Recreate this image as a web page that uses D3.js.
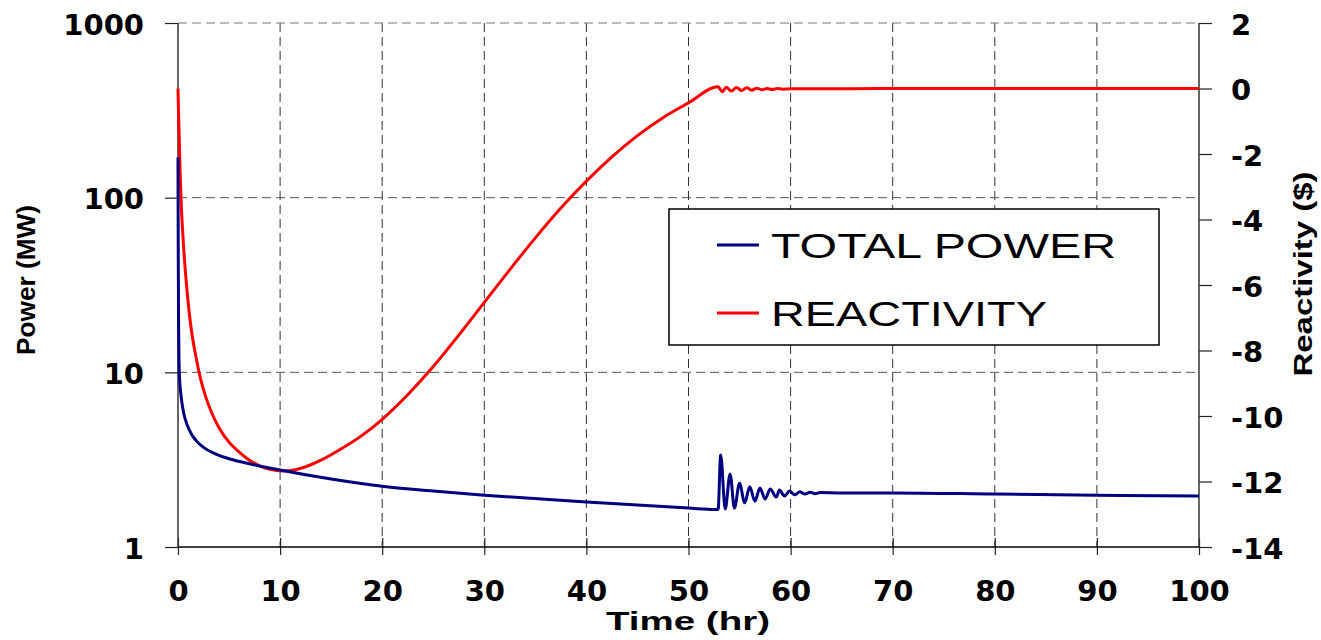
<!DOCTYPE html>
<html><head><meta charset="utf-8">
<script src="https://cdn.jsdelivr.net/npm/d3@7"></script>
<style>body{margin:0;background:#fff}</style>
</head><body><svg id="c" width="1321" height="640"></svg>
<script>
// ---- data ----
const timePower = [0, 0.01, 0.03, 0.06, 0.1, 0.15, 0.25, 0.4, 0.6, 0.9, 1.3, 1.8, 2.5, 3.5, 5, 7, 10, 15, 20, 25, 30, 40, 50, 52.6, 52.9,
  53.15, 53.6, 54.07, 54.5, 55.0, 55.5, 56.0, 56.5, 57.0, 57.5, 58.0, 58.6, 58.9, 59.4, 59.9, 60.4, 60.9, 61.4, 61.9, 62.4, 62.9,
  65, 70, 80, 90, 100];
const totalPower = [170, 100, 40, 18, 11.5, 9.3, 7.8, 6.6, 5.7, 5.0, 4.45, 4.05, 3.72, 3.45, 3.2, 3.0, 2.76, 2.45, 2.23, 2.09, 1.98, 1.81, 1.67, 1.64, 1.64,
  3.36, 1.65, 2.62, 1.67, 2.32, 1.79, 2.21, 1.83, 2.18, 1.88, 2.15, 1.93, 2.12, 1.96, 2.09, 1.99, 2.07, 2.01, 2.06, 2.02, 2.05,
  2.04, 2.04, 2.01, 1.98, 1.96];
const timeReact = [0, 0.05, 0.1, 0.2, 0.3, 0.5, 0.7, 1.0, 1.3, 1.7, 2.2, 2.7, 3.3, 4.0, 5.0, 6.0, 7.0, 8.0, 9.0, 10.3, 11.5, 12.5,
  14, 16, 18, 20, 22.5, 25, 27.5, 30, 32.5, 35, 37.5, 40, 42.5, 45, 47.5, 50, 52.9,
  53.3, 53.7, 54.2, 54.7, 55.2, 55.7, 56.2, 56.7, 57.2, 57.7, 58.2, 58.7, 59.2, 60, 62, 70, 100];
const reactivity = [0, -0.7, -1.3, -2.5, -3.4, -4.6, -5.5, -6.55, -7.35, -8.1, -8.85, -9.4, -9.9, -10.35, -10.8, -11.1, -11.35, -11.52,
  -11.63, -11.68, -11.64, -11.55, -11.35, -11.0, -10.6, -10.1, -9.35, -8.49, -7.53, -6.53, -5.53, -4.56, -3.65, -2.83, -2.09,
  -1.44, -0.89, -0.44, 0.05,
  -0.1, 0.04, -0.08, 0.03, -0.06, 0.02, -0.05, 0.01, -0.04, 0.0, -0.03, 0.0, -0.02, -0.01, -0.01, 0, 0];
const xTicks = [0, 10, 20, 30, 40, 50, 60, 70, 80, 90, 100];
const powerTicks = [1, 10, 100, 1000];
const reactTicks = [-14, -12, -10, -8, -6, -4, -2, 0, 2];
const seriesNames = ["TOTAL POWER", "REACTIVITY"];
const seriesColors = ["#000080", "#ff0000"];

// ---- layout ----
const L = 178, R = 1199, T = 23, B = 547;
const svg = d3.select("#c");
const x = d3.scaleLinear([0, 100], [L, R]);
const yP = d3.scaleLog([1, 1000], [B, T]);
const yR = d3.scaleLinear([-14, 2], [B, T]);
const tickFont = "'DejaVu Sans', sans-serif";

// grid
const grid = svg.append("g").attr("stroke", "#333").attr("stroke-width", 1).attr("stroke-dasharray", "9,5");
xTicks.slice(1, -1).forEach(t => grid.append("line").attr("x1", x(t)).attr("x2", x(t)).attr("y1", T).attr("y2", B));
[10, 100].forEach(v => grid.append("line").attr("x1", L).attr("x2", R).attr("y1", yP(v)).attr("y2", yP(v)).attr("stroke", "#555"));
grid.append("line").attr("x1", L).attr("x2", R).attr("y1", T).attr("y2", T).attr("stroke", "#777");

// axes
const axL = svg.append("g").attr("transform", `translate(${L},0)`)
  .call(d3.axisLeft(yP).tickValues(powerTicks).tickSize(13).tickSizeOuter(0).tickPadding(21).tickFormat(d3.format("d")));
const axR = svg.append("g").attr("transform", `translate(${R},0)`)
  .call(d3.axisRight(yR).tickValues(reactTicks).tickSize(13).tickSizeOuter(0).tickPadding(19).tickFormat(d => String(d)));
const axB = svg.append("g").attr("transform", `translate(0,${B})`)
  .call(d3.axisBottom(x).tickValues(xTicks).tickSize(8).tickSizeOuter(0).tickFormat(d => String(d)));
[axL, axR, axB].forEach(a => {
  a.select(".domain").remove();
  a.selectAll("line").attr("stroke", "#222").attr("stroke-width", 1.2);
  a.selectAll("text").attr("font-family", tickFont).attr("font-weight", "bold").attr("font-size", 29).attr("fill", "#000");
});
axL.selectAll("text").attr("dy", "0.38em");
axR.selectAll("text").attr("dy", "0.38em");
axB.selectAll("line").attr("y1", -9).attr("y2", 8);
axB.selectAll("text").attr("y", 54).attr("dy", 0);
svg.append("line").attr("x1", L).attr("x2", L).attr("y1", T).attr("y2", B).attr("stroke", "#333").attr("stroke-width", 1.5);
svg.append("line").attr("x1", R).attr("x2", R).attr("y1", T).attr("y2", B).attr("stroke", "#333").attr("stroke-width", 1.5);
svg.append("line").attr("x1", L).attr("x2", R).attr("y1", B).attr("y2", B).attr("stroke", "#000").attr("stroke-width", 1.5);

// titles
const titleFont = "'Liberation Sans', Arial, sans-serif";
svg.append("text").attr("x", 606).attr("y", 630).attr("font-family", titleFont).attr("font-weight", "bold")
  .attr("font-size", 25).attr("textLength", 164).attr("lengthAdjust", "spacingAndGlyphs").text("Time (hr)");
svg.append("text").attr("transform", "translate(35,280) rotate(-90)").attr("text-anchor", "middle")
  .attr("font-family", titleFont).attr("font-weight", "bold").attr("font-size", 26)
  .attr("textLength", 150).attr("lengthAdjust", "spacingAndGlyphs").text("Power (MW)");
svg.append("text").attr("transform", "translate(1312,274) rotate(-90)").attr("text-anchor", "middle")
  .attr("font-family", titleFont).attr("font-weight", "bold").attr("font-size", 26)
  .attr("textLength", 205).attr("lengthAdjust", "spacingAndGlyphs").text("Reactivity ($)");

// lines
const powerData = timePower.map((t, i) => [t, totalPower[i]]);
const reactData = timeReact.map((t, i) => [t, reactivity[i]]);
svg.append("path").datum(reactData).attr("fill", "none").attr("stroke", seriesColors[1]).attr("stroke-width", 3)
  .attr("d", d3.line().x(d => x(d[0])).y(d => yR(d[1])).curve(d3.curveMonotoneX));
svg.append("path").datum(powerData).attr("fill", "none").attr("stroke", seriesColors[0]).attr("stroke-width", 3)
  .attr("d", d3.line().x(d => x(d[0])).y(d => yP(d[1])).curve(d3.curveMonotoneX));

// legend
const lg = svg.append("g");
lg.append("rect").attr("x", 669).attr("y", 209).attr("width", 490).attr("height", 136)
  .attr("fill", "#fff").attr("stroke", "#000").attr("stroke-width", 1.5);
const lgY = [245, 313], lgBase = [258, 326], lgLen = [345, 276];
seriesNames.forEach((n, i) => {
  lg.append("line").attr("x1", 717).attr("x2", 759).attr("y1", lgY[i]).attr("y2", lgY[i])
    .attr("stroke", seriesColors[i]).attr("stroke-width", 3);
  lg.append("text").attr("x", 771).attr("y", lgBase[i]).attr("font-family", titleFont).attr("font-size", 35)
    .attr("textLength", lgLen[i]).attr("lengthAdjust", "spacingAndGlyphs").text(n);
});
</script></body></html>
